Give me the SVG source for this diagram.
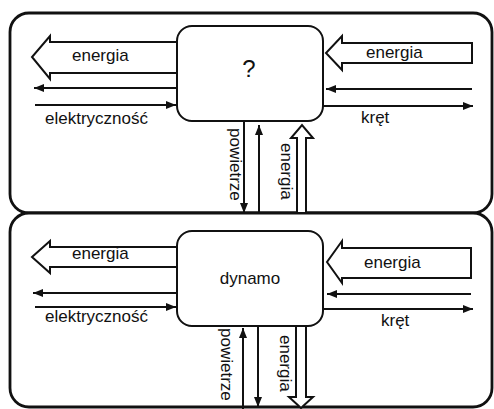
<svg xmlns="http://www.w3.org/2000/svg" width="494" height="409" viewBox="0 0 494 409">
<style>
.panel{fill:#fff;stroke:#111;stroke-width:2.8}
.box{fill:#fff;stroke:#111;stroke-width:2}
.thin{fill:none;stroke:#111;stroke-width:2}
.fat{fill:#fff;stroke:#111;stroke-width:2;stroke-linejoin:miter}
.lbl{font-family:"Liberation Sans",Arial,sans-serif;font-size:17px;fill:#111}
</style>
<defs>
<marker id="ah" viewBox="0 0 10 8" refX="10" refY="4" markerWidth="10" markerHeight="8" markerUnits="userSpaceOnUse" orient="auto">
<path d="M0,0 L10,4 L0,8 z" fill="#111"/>
</marker>
</defs>
<g id="panel-top"><rect class="panel" x="10" y="13" width="482" height="200" rx="19"/></g>
<g id="panel-bottom"><rect class="panel" x="10" y="213" width="482" height="194" rx="19"/></g>
<g id="connectors">
<!-- top panel -->
<polygon class="fat" points="177,42 50,42 50,36 32,57 50,79 50,73 177,73"/>
<line class="thin" x1="177" y1="88" x2="34" y2="88" marker-end="url(#ah)"/>
<line class="thin" x1="35" y1="105" x2="176" y2="105" marker-end="url(#ah)"/>
<polygon class="fat" points="472,43 342,43 342,36 326,53 342,70 342,63 472,63"/>
<line class="thin" x1="472" y1="89" x2="326" y2="89" marker-end="url(#ah)"/>
<line class="thin" x1="323" y1="106" x2="473" y2="106" marker-end="url(#ah)"/>
<line class="thin" x1="244" y1="121" x2="244" y2="213" marker-end="url(#ah)"/>
<line class="thin" x1="259" y1="213" x2="259" y2="125" marker-end="url(#ah)"/>
<polygon class="fat" points="297,213 297,138 291,138 302,125 313,138 306,138 306,213"/>
<!-- bottom panel -->
<polygon class="fat" points="177,247 50,247 50,241 32,257 50,273 50,267 177,267"/>
<line class="thin" x1="177" y1="293" x2="33" y2="293" marker-end="url(#ah)"/>
<line class="thin" x1="35" y1="307" x2="176" y2="307" marker-end="url(#ah)"/>
<polygon class="fat" points="471,248 342,248 342,241 327,262 342,283 342,278 471,278"/>
<line class="thin" x1="471" y1="294" x2="327" y2="294" marker-end="url(#ah)"/>
<line class="thin" x1="323" y1="309" x2="473" y2="309" marker-end="url(#ah)"/>
<line class="thin" x1="243" y1="409" x2="243" y2="328" marker-end="url(#ah)"/>
<line class="thin" x1="258" y1="326" x2="258" y2="407" marker-end="url(#ah)"/>
<polygon class="fat" points="296,326 296,397 289,397 301,408 313,397 306,397 306,326"/>
<!-- labels -->
<text class="lbl" x="72" y="61">energia</text>
<text class="lbl" x="45" y="124">elektryczność</text>
<text class="lbl" x="366" y="58">energia</text>
<text class="lbl" x="361" y="123">kręt</text>
<text class="lbl" x="230" y="128" transform="rotate(90 230 128)">powietrze</text>
<text class="lbl" x="281" y="143" transform="rotate(90 281 143)">energia</text>
<text class="lbl" x="72" y="259">energia</text>
<text class="lbl" x="45" y="322">elektryczność</text>
<text class="lbl" x="364" y="268">energia</text>
<text class="lbl" x="381" y="326">kręt</text>
<text class="lbl" x="221" y="328" transform="rotate(90 221 328)">powietrze</text>
<text class="lbl" x="280" y="335" transform="rotate(90 280 335)">energia</text>
</g>
<g id="box-q"><rect class="box" x="177" y="26" width="146" height="95" rx="15"/><text class="lbl" x="249" y="77" text-anchor="middle" font-size="24" style="font-size:24px">?</text></g>
<g id="box-dynamo"><rect class="box" x="177" y="231" width="146" height="95" rx="15"/><text class="lbl" x="250" y="284" text-anchor="middle">dynamo</text></g>
</svg>
